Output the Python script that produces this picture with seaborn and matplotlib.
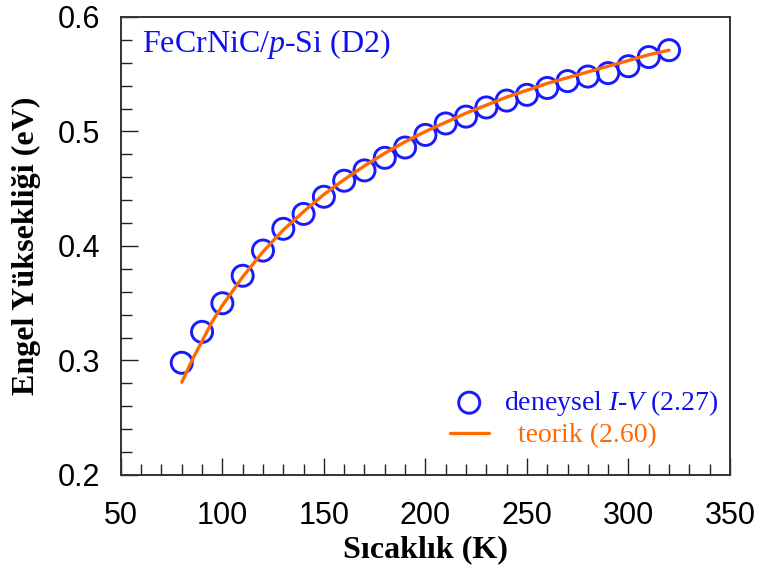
import matplotlib
matplotlib.use("Agg")
import matplotlib.pyplot as plt
import seaborn as sns
import pandas as pd
from matplotlib.ticker import MultipleLocator

# ---- data ----
temp_exp = [80, 90, 100, 110, 120, 130, 140, 150, 160, 170, 180, 190, 200,
            210, 220, 230, 240, 250, 260, 270, 280, 290, 300, 310, 320]
phi_exp = [0.298, 0.325, 0.350, 0.374, 0.396, 0.415, 0.428, 0.443, 0.457,
           0.466, 0.477, 0.486, 0.497, 0.507, 0.513, 0.521, 0.527, 0.532,
           0.538, 0.544, 0.548, 0.551, 0.557, 0.565, 0.571]
temp_th = [80, 85, 90, 95, 100, 110, 120, 130, 140, 150, 160, 170, 180, 190,
           200, 210, 220, 230, 240, 250, 260, 270, 280, 290, 300, 310, 320]
phi_th = [0.281, 0.300, 0.317, 0.334, 0.348, 0.373, 0.395, 0.414, 0.430,
          0.445, 0.458, 0.470, 0.481, 0.491, 0.500, 0.508, 0.516, 0.523,
          0.530, 0.536, 0.542, 0.547, 0.552, 0.557, 0.562, 0.567, 0.571]
x_ticks = [50, 100, 150, 200, 250, 300, 350]
y_ticks = [0.2, 0.3, 0.4, 0.5, 0.6]

label_exp = r"deneysel $\it{I}$-$\it{V}$ (2.27)"
label_th = "  teorik (2.60)"

df_exp = pd.DataFrame({"T": temp_exp, "phi": phi_exp})
df_th = pd.DataFrame({"T": temp_th, "phi": phi_th})

sns.set_theme(style="white")
plt.rcParams["mathtext.fontset"] = "custom"
plt.rcParams["mathtext.rm"] = "Liberation Serif"
plt.rcParams["mathtext.it"] = "Liberation Serif:italic"
plt.rcParams["mathtext.bf"] = "Liberation Serif:bold"

BLUE = "#1a1aff"
TXTBLUE = "#1010ee"
ORANGE = "#ff6a00"

fig = plt.figure(figsize=(7.6, 5.72), dpi=100)
ax = fig.add_axes([0.159, 0.1696, 0.8015, 0.8007])

sns.scatterplot(data=df_exp, x="T", y="phi", ax=ax, marker="o", s=230,
                facecolor="none", edgecolor=BLUE, linewidth=2.1,
                label=label_exp, zorder=2)
sns.lineplot(data=df_th, x="T", y="phi", ax=ax, color=ORANGE, linewidth=2.4,
             label=label_th, zorder=3)

ax.set_xlim(50, 350)
ax.set_ylim(0.2, 0.6)
ax.set_xticks(x_ticks)
ax.set_yticks(y_ticks)
ax.set_xticklabels([str(v) for v in x_ticks])
ax.set_yticklabels([f"{v:.1f}" for v in y_ticks])
ax.xaxis.set_minor_locator(MultipleLocator(10))
ax.yaxis.set_minor_locator(MultipleLocator(0.02))

for lab in ax.get_xticklabels() + ax.get_yticklabels():
    lab.set_fontfamily("Liberation Sans")
    lab.set_fontsize(22)
    lab.set_color("black")

ax.tick_params(axis="both", which="both", direction="in",
               top=False, right=False, left=True, bottom=True,
               colors="#222222")
ax.tick_params(axis="both", which="major", length=12, width=1.0)
ax.tick_params(axis="both", which="minor", length=8, width=1.0)
ax.tick_params(axis="x", which="major", pad=19, labelcolor="black")
ax.tick_params(axis="y", which="major", pad=15, labelcolor="black")

for sp in ax.spines.values():
    sp.set_color("#333333")
    sp.set_linewidth(1.4)

ax.set_xlabel("Sıcaklık (K)", fontfamily="Liberation Serif",
              fontweight="bold", fontsize=23, labelpad=3, color="black")
ax.set_ylabel("Engel Yüksekliği (eV)",
              fontfamily="Liberation Serif", fontweight="bold", fontsize=23,
              labelpad=12, color="black")

ax.text(0.034, 0.94, r"FeCrNiC/$\it{p}$-Si (D2)", transform=ax.transAxes,
        fontfamily="Liberation Serif", fontsize=23, color=TXTBLUE,
        ha="left", va="center")

leg = ax.legend(loc="upper left", bbox_to_anchor=(0.54, 0.19), frameon=False,
                prop={"family": "Liberation Serif", "size": 20},
                handlelength=1.4, handletextpad=0.55, labelspacing=0.18,
                borderpad=0, borderaxespad=0)
for txt, col in zip(leg.get_texts(), [TXTBLUE, ORANGE]):
    txt.set_color(col)

fig.savefig("out.png", dpi=100)
